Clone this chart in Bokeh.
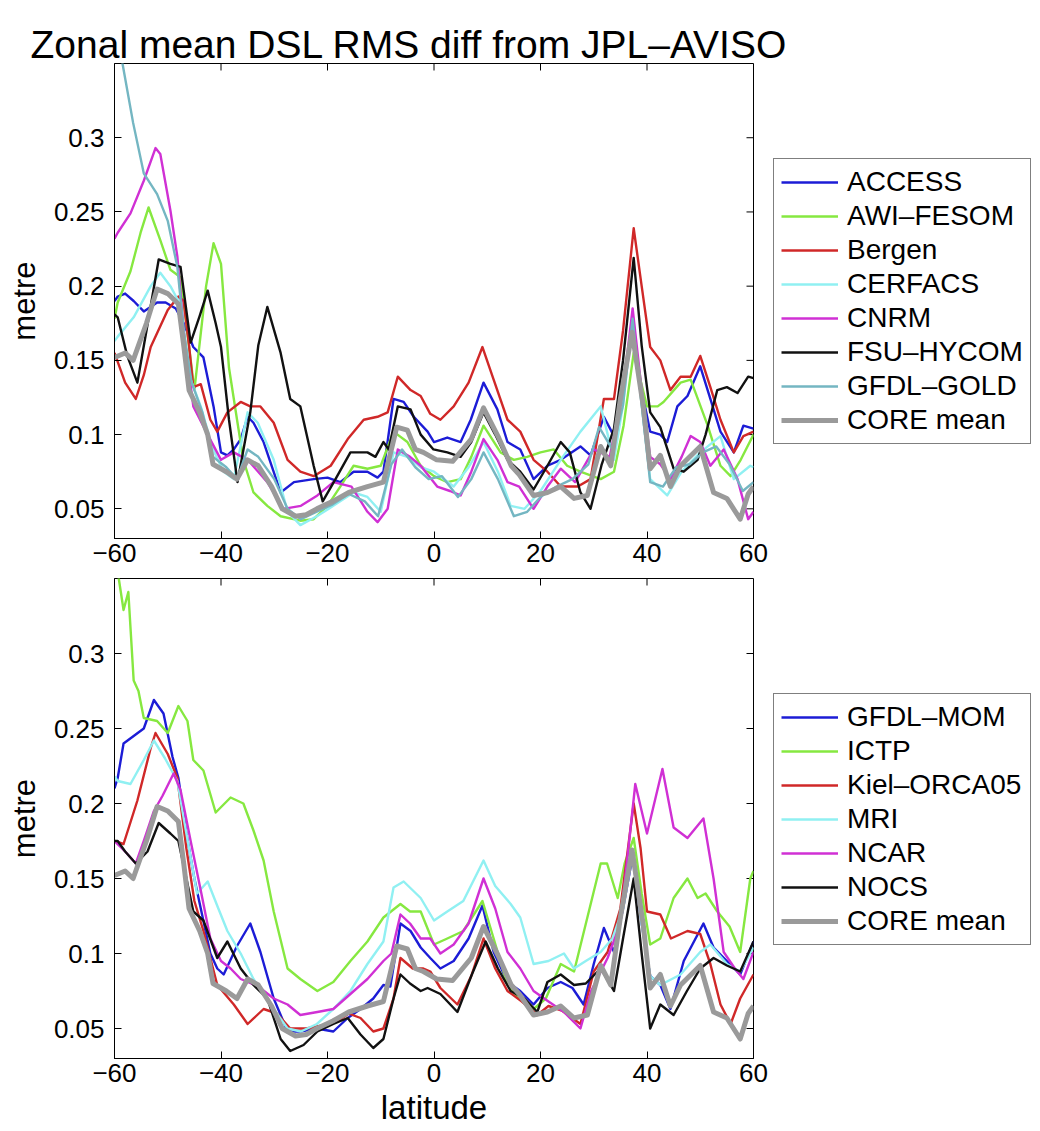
import math
from bokeh.plotting import figure
from bokeh.models import Legend, LegendItem, Range1d, FixedTicker, Label
from bokeh.layouts import column, row
from bokeh.embed import file_html
from bokeh.resources import INLINE

FONT = "Liberation Sans"

# ---------------- data (latitude, RMS difference in metre) ----------------
title_text = "Zonal mean DSL RMS diff from JPL\u2013AVISO"
x_min, x_max = -60, 60
y_min, y_max = 0.03, 0.35
x_ticks = [-60, -40, -20, 0, 20, 40, 60]
x_tick_labels = ["\u221260", "\u221240", "\u221220", "0", "20", "40", "60"]
y_ticks = [0.05, 0.1, 0.15, 0.2, 0.25, 0.3]
y_tick_labels = ["0.05", "0.1", "0.15", "0.2", "0.25", "0.3"]

core_mean = [(-60, 0.152), (-58, 0.155), (-56.5, 0.150), (-54, 0.175), (-52, 0.198), (-50, 0.195),
             (-48, 0.188), (-47, 0.160), (-46, 0.130), (-44, 0.115), (-42.5, 0.100), (-41.5, 0.080),
             (-39, 0.075), (-37, 0.070), (-35, 0.083), (-33, 0.079), (-30.5, 0.065), (-28.5, 0.050),
             (-26, 0.045), (-24, 0.046), (-22, 0.050), (-19, 0.055), (-16, 0.061), (-12.5, 0.065),
             (-9.5, 0.068), (-8, 0.090), (-7, 0.105), (-5, 0.103), (-3.5, 0.090), (-2, 0.088),
             (0.5, 0.083), (3.5, 0.082), (7, 0.097), (9.3, 0.118), (12, 0.099), (14.5, 0.079),
             (16, 0.073), (18.7, 0.059), (21.3, 0.061), (23.8, 0.065), (26.3, 0.057), (28.8, 0.059),
             (31.3, 0.092), (33.2, 0.079), (35, 0.124), (37.2, 0.169), (39.3, 0.119), (40.6, 0.077),
             (42.5, 0.086), (44.4, 0.065), (46.3, 0.079), (50, 0.092), (52.5, 0.061), (55, 0.057),
             (57.5, 0.043), (59, 0.060), (60, 0.065)]

access = [(-60, 0.19), (-59.4, 0.193), (-58, 0.195), (-56.4, 0.19), (-54.5, 0.183), (-52, 0.189),
          (-50.4, 0.189), (-48.5, 0.185), (-47, 0.175), (-45.2, 0.159), (-43.3, 0.152), (-41.4, 0.119),
          (-40, 0.088), (-38.8, 0.086), (-37.6, 0.09), (-36.3, 0.097), (-35, 0.112), (-33.9, 0.108),
          (-32, 0.095), (-28.8, 0.061), (-26.3, 0.068), (-22.6, 0.07), (-20, 0.071), (-17.6, 0.068),
          (-15.1, 0.075), (-12.5, 0.075), (-10.6, 0.071), (-9.5, 0.075), (-7.6, 0.124), (-5.7, 0.122),
          (-3.8, 0.112), (-1.2, 0.102), (0, 0.095), (2.5, 0.098), (5, 0.095), (6.9, 0.11), (9.3, 0.135),
          (11.9, 0.117), (13.8, 0.095), (16.2, 0.09), (18.7, 0.07), (21.3, 0.079), (23.8, 0.083),
          (27.5, 0.092), (29.4, 0.086), (31.9, 0.112), (33.8, 0.099), (35.5, 0.13), (37.3, 0.172),
          (39, 0.13), (40.6, 0.102), (42.5, 0.1), (43.8, 0.095), (45.7, 0.119), (47.6, 0.126),
          (50, 0.146), (51.9, 0.124), (53.8, 0.102), (56.3, 0.088), (58.1, 0.106), (60, 0.104)]

awi_fesom = [(-60, 0.178), (-59.4, 0.189), (-57, 0.21), (-55.1, 0.236), (-53.6, 0.253), (-51.4, 0.231),
             (-49.5, 0.211), (-47.6, 0.206), (-45, 0.13), (-42.8, 0.2), (-41.4, 0.229), (-40, 0.215),
             (-38.5, 0.145), (-36.9, 0.108), (-35.8, 0.083), (-33.9, 0.061), (-31.3, 0.052), (-28.8, 0.045),
             (-25.1, 0.042), (-22.6, 0.043), (-20, 0.052), (-17.6, 0.065), (-15.1, 0.079), (-12.5, 0.077),
             (-10, 0.079), (-7.6, 0.102), (-5, 0.095), (-2.5, 0.079), (0, 0.072), (2.5, 0.068), (5, 0.07),
             (7, 0.085), (9.3, 0.106), (12.5, 0.088), (15, 0.083), (17.5, 0.085), (20, 0.088), (22.5, 0.09),
             (25, 0.079), (27.5, 0.075), (31.3, 0.07), (33.8, 0.075), (35.6, 0.106), (37.5, 0.155),
             (40, 0.119), (42, 0.119), (43.1, 0.122), (46.3, 0.135), (48.2, 0.137), (51.4, 0.106),
             (53.8, 0.079), (55.7, 0.072), (57.6, 0.083), (60, 0.1)]

bergen = [(-60, 0.155), (-58, 0.135), (-56, 0.124), (-54.5, 0.14), (-53.2, 0.159), (-50, 0.184),
          (-48, 0.193), (-47, 0.19), (-46, 0.16), (-45.2, 0.132), (-43.8, 0.134), (-42, 0.11),
          (-40.7, 0.102), (-38.8, 0.115), (-36.3, 0.122), (-34.5, 0.119), (-32.6, 0.119), (-30.1, 0.108),
          (-27.5, 0.083), (-25.1, 0.075), (-22.6, 0.072), (-19.4, 0.079), (-16.2, 0.097), (-13.2, 0.11),
          (-10.6, 0.112), (-8.7, 0.115), (-6.8, 0.139), (-4.4, 0.13), (-2.5, 0.126), (-0.7, 0.114),
          (1.2, 0.11), (3.7, 0.119), (6.5, 0.135), (9.1, 0.159), (11.2, 0.137), (13.8, 0.11),
          (16.2, 0.102), (18.7, 0.083), (21.3, 0.075), (23.8, 0.065), (27, 0.065), (29.4, 0.07),
          (31.9, 0.124), (33.8, 0.124), (35.5, 0.17), (37.5, 0.239), (39, 0.2), (40.6, 0.159),
          (42.5, 0.15), (44.4, 0.13), (46.3, 0.139), (48.2, 0.139), (50, 0.153), (51.9, 0.132),
          (53.8, 0.11), (56.3, 0.088), (58.1, 0.099), (60, 0.102)]

cerfacs = [(-60, 0.163), (-59.4, 0.166), (-56.4, 0.179), (-53.2, 0.2), (-51.4, 0.209), (-49.5, 0.2),
           (-48, 0.19), (-46, 0.14), (-43.8, 0.119), (-41.5, 0.09), (-39.5, 0.075), (-37.6, 0.07),
           (-35, 0.115), (-33.1, 0.108), (-30.1, 0.083), (-27.5, 0.048), (-25.1, 0.039), (-22, 0.045),
           (-18.9, 0.052), (-15.1, 0.061), (-12.5, 0.058), (-10, 0.048), (-7.6, 0.088), (-5, 0.085),
           (-2.5, 0.078), (0, 0.075), (3.7, 0.065), (6.5, 0.078), (9.3, 0.095), (12, 0.075),
           (14.4, 0.052), (17, 0.05), (20, 0.062), (23.8, 0.083), (27.5, 0.102), (31.3, 0.119),
           (33.8, 0.083), (35.5, 0.12), (37.3, 0.18), (39, 0.12), (40.6, 0.07), (43.8, 0.059),
           (46.5, 0.075), (50, 0.088), (53.8, 0.099), (56.3, 0.07), (59.4, 0.079), (60, 0.078)]

cnrm = [(-60, 0.232), (-59.4, 0.236), (-57, 0.249), (-54.5, 0.271), (-52.3, 0.293), (-51.4, 0.289),
        (-49.5, 0.251), (-48.2, 0.22), (-47, 0.17), (-45.2, 0.119), (-42.5, 0.1), (-40, 0.083),
        (-37.6, 0.088), (-35, 0.083), (-31.3, 0.068), (-28.3, 0.05), (-25, 0.052), (-21.9, 0.059),
        (-18.9, 0.068), (-15.5, 0.065), (-12.5, 0.048), (-10.6, 0.041), (-8.7, 0.05), (-6.8, 0.09),
        (-4.5, 0.085), (-2.5, 0.079), (0.6, 0.065), (3, 0.062), (5, 0.059), (7, 0.075), (9.3, 0.097),
        (11.9, 0.083), (13.8, 0.068), (16, 0.065), (18.7, 0.05), (21.3, 0.065), (23.8, 0.077),
        (26.5, 0.068), (30, 0.09), (33, 0.085), (35.5, 0.13), (37.3, 0.185), (39, 0.13), (40.6, 0.085),
        (42.5, 0.08), (44.4, 0.07), (46.5, 0.085), (48.2, 0.099), (50, 0.095), (51.9, 0.079),
        (54.4, 0.09), (57, 0.07), (59, 0.043), (60, 0.048)]

fsu_hycom = [(-60, 0.181), (-59.4, 0.179), (-57.6, 0.153), (-55.7, 0.135), (-54, 0.17), (-51.7, 0.218),
             (-49.5, 0.215), (-47.6, 0.213), (-45.7, 0.162), (-44, 0.18), (-42.5, 0.197), (-41, 0.175),
             (-40, 0.159), (-38.5, 0.11), (-36.9, 0.068), (-34.5, 0.115), (-33, 0.16), (-31.3, 0.186),
             (-28.8, 0.155), (-27, 0.124), (-25.1, 0.119), (-22.6, 0.079), (-20.9, 0.055), (-18.5, 0.07),
             (-15.7, 0.088), (-12.5, 0.088), (-11, 0.085), (-9.5, 0.095), (-8.5, 0.09), (-6.8, 0.119),
             (-4.4, 0.117), (-2.5, 0.1), (-0.1, 0.09), (2.5, 0.088), (5, 0.085), (7, 0.095), (9.3, 0.115),
             (11.5, 0.1), (13.8, 0.083), (16.2, 0.075), (18.7, 0.063), (21.3, 0.079), (23.8, 0.095),
             (25.5, 0.088), (27.5, 0.061), (29.4, 0.05), (31.5, 0.08), (33.8, 0.104), (35.5, 0.15),
             (37.5, 0.219), (39, 0.16), (40.6, 0.115), (42.5, 0.105), (45, 0.077), (46.9, 0.075),
             (49.5, 0.083), (51, 0.1), (53.2, 0.13), (55, 0.132), (57, 0.128), (59, 0.139), (60, 0.138)]

gfdl_gold = [(-60, 0.375), (-58.5, 0.35), (-56.5, 0.31), (-54.5, 0.276), (-52, 0.262), (-50, 0.244),
             (-48.2, 0.213), (-47, 0.17), (-45.5, 0.135), (-43.5, 0.115), (-41.5, 0.085), (-39, 0.078),
             (-37, 0.07), (-35, 0.09), (-33, 0.085), (-30, 0.07), (-27.5, 0.05), (-25, 0.043), (-22, 0.048),
             (-19, 0.053), (-16, 0.06), (-13, 0.055), (-10.5, 0.045), (-8, 0.08), (-6, 0.09), (-3.5, 0.078),
             (-1, 0.07), (1.5, 0.072), (4.5, 0.058), (7, 0.07), (9.3, 0.088), (12, 0.07), (15, 0.045),
             (17.5, 0.048), (20, 0.058), (23, 0.065), (26, 0.07), (29, 0.08), (31, 0.105), (33.5, 0.09),
             (35.5, 0.12), (37.3, 0.178), (39, 0.12), (40.6, 0.068), (43, 0.065), (45.5, 0.078), (48, 0.08),
             (50.5, 0.088), (53, 0.092), (55.5, 0.08), (58, 0.062), (60, 0.068)]

gfdl_mom = [(-60, 0.21), (-59.4, 0.217), (-58.3, 0.24), (-56.4, 0.245), (-54.5, 0.25), (-52.6, 0.269),
            (-50.8, 0.26), (-49.1, 0.231), (-48, 0.217), (-46.5, 0.18), (-45, 0.15), (-43.5, 0.125),
            (-42, 0.1), (-40.7, 0.09), (-39.5, 0.086), (-37, 0.105), (-34.5, 0.12), (-32.6, 0.101),
            (-30.1, 0.07), (-27.5, 0.048), (-25.1, 0.048), (-22, 0.05), (-18.9, 0.048), (-16.2, 0.057),
            (-13.8, 0.063), (-11.4, 0.07), (-9.5, 0.079), (-8.2, 0.078), (-6.3, 0.12), (-4.4, 0.115),
            (-2.5, 0.104), (-0.7, 0.097), (1.2, 0.09), (3.7, 0.095), (6.5, 0.11), (9.1, 0.132),
            (11.2, 0.101), (13.8, 0.081), (16.2, 0.075), (18.7, 0.066), (21.3, 0.077), (23.8, 0.081),
            (26, 0.077), (28.1, 0.066), (30, 0.093), (31.9, 0.117), (33.8, 0.101), (35.5, 0.13),
            (37.3, 0.165), (39, 0.12), (40.6, 0.085), (42.5, 0.079), (44.4, 0.063), (46.9, 0.095),
            (50.6, 0.12), (52.5, 0.104), (55, 0.095), (57.5, 0.086), (60, 0.108)]

ictp = [(-60, 0.36), (-59.2, 0.35), (-58.3, 0.329), (-57.4, 0.341), (-56.4, 0.282), (-55.5, 0.275),
        (-54.5, 0.257), (-52, 0.255), (-50, 0.247), (-48, 0.265), (-46.3, 0.255), (-45.2, 0.229),
        (-43.3, 0.222), (-41, 0.194), (-38.2, 0.204), (-35.8, 0.2), (-33.9, 0.182), (-32, 0.162),
        (-30.1, 0.128), (-27.5, 0.09), (-25.1, 0.083), (-21.9, 0.075), (-18.9, 0.081), (-15.7, 0.095),
        (-12.5, 0.108), (-9.5, 0.124), (-6.3, 0.133), (-4.5, 0.128), (-2.5, 0.128), (0, 0.106),
        (2.5, 0.11), (5.5, 0.115), (9.1, 0.135), (11.2, 0.11), (13.8, 0.079), (16, 0.07), (18.7, 0.063),
        (21, 0.07), (23.8, 0.093), (26.3, 0.088), (28.8, 0.124), (31.3, 0.16), (32.5, 0.16),
        (34.5, 0.137), (35.8, 0.16), (37.5, 0.177), (39, 0.14), (40.6, 0.106), (42.5, 0.11),
        (45, 0.137), (47.6, 0.15), (49.5, 0.137), (51, 0.14), (53.2, 0.128), (55.5, 0.118),
        (57.5, 0.101), (59.4, 0.15), (60, 0.155)]

kiel_orca05 = [(-60, 0.175), (-58.3, 0.173), (-55.7, 0.202), (-53.2, 0.237), (-52.3, 0.247), (-50, 0.233),
               (-48.2, 0.217), (-46.5, 0.17), (-45, 0.135), (-43.3, 0.115), (-41.5, 0.09), (-40.7, 0.079),
               (-37.6, 0.066), (-35, 0.053), (-33.5, 0.058), (-32, 0.063), (-29.5, 0.06), (-27, 0.05),
               (-24, 0.05), (-21, 0.052), (-18, 0.055), (-16, 0.06), (-13.8, 0.057), (-11.4, 0.048),
               (-9.5, 0.05), (-7.6, 0.07), (-6.3, 0.097), (-4, 0.09), (-2, 0.09), (-0.7, 0.088),
               (1.2, 0.077), (4.4, 0.066), (7, 0.085), (9.3, 0.11), (11.5, 0.09), (13.8, 0.075),
               (16.5, 0.068), (19.4, 0.059), (21.5, 0.065), (24, 0.062), (27.5, 0.053), (30, 0.088),
               (32.6, 0.101), (35, 0.13), (37.5, 0.2), (38.8, 0.17), (40, 0.128), (42.5, 0.126),
               (44.5, 0.11), (47.6, 0.115), (50, 0.113), (51.9, 0.093), (53.8, 0.066), (55.7, 0.053),
               (57.5, 0.07), (60, 0.086)]

mri = [(-60, 0.218), (-59.4, 0.215), (-57, 0.213), (-54.5, 0.229), (-52.6, 0.242), (-50.5, 0.23),
       (-48.2, 0.215), (-46.5, 0.18), (-44.5, 0.14), (-42.5, 0.148), (-40.5, 0.13), (-38.8, 0.115),
       (-36.3, 0.1), (-33.9, 0.083), (-30.5, 0.065), (-27.5, 0.05), (-25, 0.048), (-22, 0.053),
       (-18.9, 0.063), (-15.7, 0.075), (-12.5, 0.093), (-9.5, 0.108), (-7.6, 0.144), (-5.7, 0.148),
       (-2.5, 0.137), (0, 0.122), (2.5, 0.128), (5.5, 0.135), (9.3, 0.162), (11.5, 0.145),
       (14.4, 0.133), (16.2, 0.124), (18.7, 0.093), (21.5, 0.095), (24.4, 0.1), (26.3, 0.09),
       (28.5, 0.095), (31.3, 0.101), (33.5, 0.11), (35.5, 0.13), (37.3, 0.168), (39, 0.12),
       (40.6, 0.085), (42.5, 0.079), (46.3, 0.086), (50, 0.101), (51.9, 0.106), (55, 0.093),
       (57.5, 0.088), (60, 0.104)]

ncar = [(-60, 0.175), (-58, 0.168), (-56, 0.16), (-54.5, 0.175), (-52.6, 0.195), (-51, 0.205),
        (-48.9, 0.22), (-47.6, 0.209), (-45.7, 0.175), (-43.8, 0.142), (-42, 0.11), (-40, 0.095),
        (-38.2, 0.09), (-36.3, 0.083), (-33, 0.078), (-30.1, 0.07), (-27.5, 0.066), (-25.1, 0.059),
        (-21.9, 0.061), (-18.9, 0.063), (-15.7, 0.073), (-12.5, 0.083), (-9.5, 0.095), (-8, 0.1),
        (-6.3, 0.126), (-4.5, 0.12), (-2.5, 0.11), (-0.7, 0.11), (1.2, 0.1), (3.7, 0.106), (6.5, 0.12),
        (9.3, 0.15), (11.5, 0.13), (13.8, 0.101), (16.2, 0.09), (18.7, 0.075), (21.5, 0.068),
        (24.4, 0.061), (27.5, 0.05), (29.5, 0.075), (32.6, 0.097), (35, 0.12), (37.8, 0.213),
        (40, 0.18), (42.9, 0.223), (45, 0.184), (47.6, 0.177), (50.6, 0.19), (52.5, 0.15),
        (54.4, 0.101), (56.5, 0.09), (58.1, 0.083), (60, 0.101)]

nocs = [(-60, 0.175), (-59.4, 0.175), (-58, 0.168), (-56, 0.16), (-53.8, 0.168), (-51.7, 0.187),
        (-49.5, 0.18), (-48, 0.175), (-46.5, 0.15), (-45.2, 0.128), (-43.3, 0.122), (-40.7, 0.097),
        (-38.8, 0.108), (-36.3, 0.09), (-33.9, 0.079), (-31.3, 0.07), (-28.8, 0.043), (-27, 0.035),
        (-24.5, 0.039), (-21.9, 0.048), (-18.9, 0.053), (-16.2, 0.057), (-13.8, 0.046), (-11.4, 0.037),
        (-9.5, 0.043), (-7.6, 0.07), (-6.3, 0.086), (-4.5, 0.08), (-2.5, 0.075), (-1.2, 0.077),
        (1.2, 0.073), (4.4, 0.061), (7, 0.085), (9.7, 0.108), (12, 0.09), (14.4, 0.075), (17, 0.07),
        (19.4, 0.061), (21.3, 0.081), (23.8, 0.086), (26.3, 0.079), (28.5, 0.08), (31.3, 0.09),
        (33.8, 0.075), (35.5, 0.11), (37.5, 0.15), (39, 0.1), (40.6, 0.05), (42.5, 0.066), (45, 0.059),
        (47.5, 0.075), (50, 0.09), (52.5, 0.097), (55, 0.092), (57.5, 0.088), (60, 0.108)]

top_names = ["ACCESS", "AWI\u2013FESOM", "Bergen", "CERFACS", "CNRM", "FSU\u2013HYCOM", "GFDL\u2013GOLD", "CORE mean"]
top_series = [access, awi_fesom, bergen, cerfacs, cnrm, fsu_hycom, gfdl_gold, core_mean]
bot_names = ["GFDL\u2013MOM", "ICTP", "Kiel\u2013ORCA05", "MRI", "NCAR", "NOCS", "CORE mean"]
bot_series = [gfdl_mom, ictp, kiel_orca05, mri, ncar, nocs, core_mean]

COL_BLUE = "#1c1cd6"
COL_GREEN = "#86e840"
COL_RED = "#d02828"
COL_CYAN = "#90f0f2"
COL_MAG = "#d030d4"
COL_BLACK = "#111111"
COL_TEAL = "#74b6c2"
COL_GRAY = "#9a9a9a"
top_colors = [COL_BLUE, COL_GREEN, COL_RED, COL_CYAN, COL_MAG, COL_BLACK, COL_TEAL, COL_GRAY]
bot_colors = [COL_BLUE, COL_GREEN, COL_RED, COL_CYAN, COL_MAG, COL_BLACK, COL_GRAY]

TOTAL_W = 1032
TITLE_H = 62
FRAME_W = 639
LEFT_B = 114
RIGHT_B = 18
LEG_W = TOTAL_W - LEFT_B - FRAME_W - RIGHT_B


def width_of(name):
    return 5 if name == "CORE mean" else 2.4


def xy(data):
    return [d[0] for d in data], [d[1] for d in data]


def make_title():
    t = figure(width=TOTAL_W, height=TITLE_H, x_range=Range1d(0, 1), y_range=Range1d(0, 1),
               x_axis_type=None, y_axis_type=None, output_backend="svg", toolbar_location=None,
               min_border=0, background_fill_color="white", border_fill_color="white")
    t.outline_line_color = None
    t.xgrid.grid_line_color = None
    t.ygrid.grid_line_color = None
    t.add_layout(Label(x=30, y=18, x_units="screen", y_units="screen", text=title_text,
                       text_font=FONT, text_font_size="39px", text_color="black",
                       text_baseline="alphabetic", text_align="left"))
    return t


def make_panel(series, names, colors, frame_h, border_top, border_bottom, xlabel=None):
    p = figure(frame_width=FRAME_W, frame_height=frame_h,
               x_range=Range1d(x_min, x_max), y_range=Range1d(y_min, y_max),
               output_backend="svg", toolbar_location=None,
               min_border_left=LEFT_B, min_border_right=RIGHT_B,
               min_border_top=border_top, min_border_bottom=border_bottom,
               background_fill_color="white", border_fill_color="white")
    p.outline_line_color = "black"
    p.outline_line_width = 1
    p.xgrid.grid_line_color = None
    p.ygrid.grid_line_color = None

    for ax in (p.xaxis[0], p.yaxis[0]):
        ax.major_label_text_font = FONT
        ax.major_label_text_font_size = "26px"
        ax.major_label_text_color = "black"
        ax.major_tick_in = 7
        ax.major_tick_out = 0
        ax.minor_tick_line_color = None
        ax.axis_line_color = "black"
        ax.major_tick_line_color = "black"
        ax.axis_label_text_font = FONT
        ax.axis_label_text_font_style = "normal"
        ax.axis_label_text_color = "black"
    p.xaxis.ticker = FixedTicker(ticks=x_ticks)
    p.xaxis.major_label_overrides = dict(zip(x_ticks, x_tick_labels))
    p.xaxis.major_label_standoff = 5
    p.yaxis.ticker = FixedTicker(ticks=y_ticks)
    p.yaxis.major_label_overrides = dict(zip(y_ticks, y_tick_labels))
    p.yaxis.major_label_standoff = 10
    p.yaxis.axis_label = "metre"
    p.yaxis.axis_label_text_font_size = "31px"
    p.yaxis.axis_label_standoff = 9
    if xlabel:
        p.xaxis.axis_label = xlabel
        p.xaxis.axis_label_text_font_size = "33px"
        p.xaxis.axis_label_standoff = 4

    # inward tick marks mirrored on the top and right edges of the box
    p.ray(x=x_ticks, y=[y_max] * len(x_ticks), length=7, length_units="screen",
          angle=-math.pi / 2, line_color="black", line_width=1)
    p.ray(x=[x_max] * len(y_ticks), y=y_ticks, length=7, length_units="screen",
          angle=math.pi, line_color="black", line_width=1)

    for data, name, col in zip(series, names, colors):
        xs, ys = xy(data)
        p.line(xs, ys, line_color=col, line_width=width_of(name), line_join="round")
    return p


def make_legend_panel(series, names, colors, frame_h, border_top, border_bottom, leg_bottom):
    # the same series, drawn in a y-range they never reach, so only their legend shows
    q = figure(frame_width=LEG_W, frame_height=frame_h,
               x_range=Range1d(x_min, x_max), y_range=Range1d(y_max + 10, y_max + 11),
               x_axis_type=None, y_axis_type=None,
               output_backend="svg", toolbar_location=None,
               min_border_left=0, min_border_right=0,
               min_border_top=border_top, min_border_bottom=border_bottom,
               background_fill_color="white", border_fill_color="white")
    q.outline_line_color = None
    q.xgrid.grid_line_color = None
    q.ygrid.grid_line_color = None
    items = []
    for data, name, col in zip(series, names, colors):
        xs, ys = xy(data)
        r = q.line(xs, ys, line_color=col, line_width=width_of(name))
        items.append(LegendItem(label=name, renderers=[r]))
    legend = Legend(items=items, location=(2, leg_bottom),
                    label_text_font=FONT, label_text_font_size="28px", label_text_color="black",
                    glyph_width=57, glyph_height=30, label_height=30, label_width=176,
                    spacing=2, label_standoff=9, padding=7, margin=0,
                    border_line_color="black", border_line_width=1,
                    background_fill_color="white", background_fill_alpha=1)
    q.add_layout(legend)
    return q


title_fig = make_title()
p1 = make_panel(top_series, top_names, top_colors, 475, 63 - TITLE_H, 36)
l1 = make_legend_panel(top_series, top_names, top_colors, 475, 63 - TITLE_H, 36, 94)
p2 = make_panel(bot_series, bot_names, bot_colors, 480, 4, 70, xlabel="latitude")
l2 = make_legend_panel(bot_series, bot_names, bot_colors, 480, 4, 70, 113)

layout = column(title_fig, row(p1, l1, spacing=0), row(p2, l2, spacing=0), spacing=0)
open("out.html", "w").write(file_html(layout, INLINE))
